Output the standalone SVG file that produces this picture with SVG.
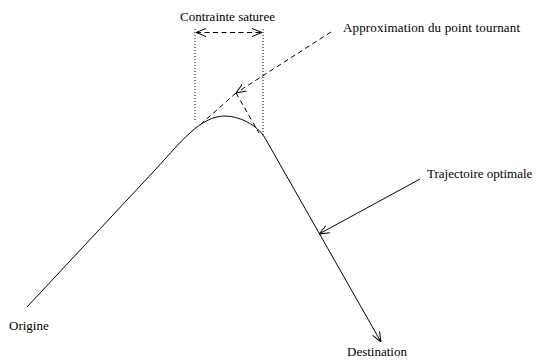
<svg xmlns="http://www.w3.org/2000/svg" width="536" height="360" viewBox="0 0 536 360">
<style>
text{font-family:"Liberation Serif","Times New Roman",serif;font-size:13px;fill:#000}
.s{fill:none;stroke:#000;stroke-width:1}
.d{stroke-dasharray:5 3.5}
.o{stroke-dasharray:1 2}
</style>
<defs>
<marker id="ah" viewBox="0 0 10 10" refX="10" refY="5" markerWidth="10" markerHeight="10" markerUnits="userSpaceOnUse" orient="auto-start-reverse">
<path d="M0,1 L10,5 L0,9" fill="none" stroke="#000" stroke-width="1"/>
</marker>
</defs>
<g id="labels">
<g id="contrainte"><text x="180" y="21">Contrainte saturee</text></g>
<g id="approx"><text x="343" y="32" textLength="177">Approximation du point tournant</text></g>
<g id="trajectoire"><text x="427" y="178">Trajectoire optimale</text></g>
<g id="origine"><text x="9" y="330">Origine</text></g>
<g id="destination"><text x="347" y="356">Destination</text></g>
</g>
<g id="connectors">
<path class="s" d="M27,307 L155,170 C180,143 200,116 225,116 C238,116 257,124 265,138 L381,342" marker-end="url(#ah)"/>
<line class="s o" x1="195" y1="29" x2="195" y2="122"/>
<line class="s o" x1="263" y1="29" x2="263" y2="137"/>
<line class="s d" x1="196" y1="32.5" x2="262" y2="32.5" marker-start="url(#ah)" marker-end="url(#ah)"/>
<line class="s d" x1="331" y1="32" x2="236" y2="93" marker-end="url(#ah)"/>
<line class="s d" x1="236" y1="93" x2="201" y2="124"/>
<line class="s d" x1="236" y1="93" x2="259" y2="133"/>
<line class="s" x1="420" y1="179" x2="319" y2="234" marker-end="url(#ah)"/>
</g>
</svg>
